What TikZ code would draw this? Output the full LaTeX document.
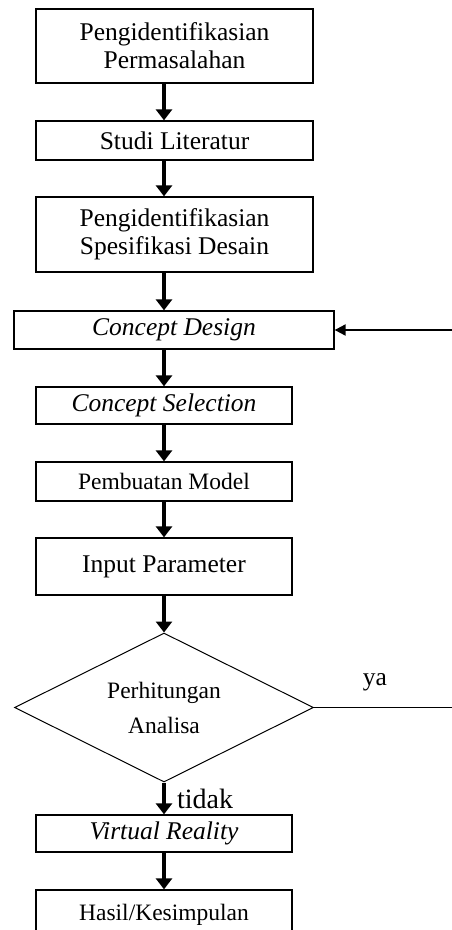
\documentclass[tikz,border=0pt]{standalone}
\usepackage{fontspec}
\setmainfont{Liberation Serif}
\usetikzlibrary{arrows.meta,shapes.geometric}

\tikzset{
  kotak/.style={draw, line width=1.3pt, align=center, inner sep=0pt,
    font=\fontsize{25.5}{28}\selectfont},
  kecil/.style={font=\fontsize{23.5}{26}\selectfont},
  panah/.style={line width=4pt, -{Triangle[width=16pt,length=11pt]}},
}

\begin{document}
\begin{tikzpicture}[x=1pt,y=-1pt]
  \useasboundingbox (0,0) rectangle (451,930);
  % kotak-kotak proses
  \node[kotak, minimum width=277, minimum height=74] (b1) at (174.5,46) {Pengidentifikasian\\Permasalahan};
  \node[kotak, minimum width=277, minimum height=39] (b2) at (174.5,140.5) {Studi Literatur};
  \node[kotak, minimum width=277, minimum height=75] (b3) at (174.5,234.5) {Pengidentifikasian\\Spesifikasi Desain};
  \node[kotak, minimum width=320, minimum height=38] (b4) at (174,330) {\textit{Concept Design}};
  \node[kotak, minimum width=256, minimum height=37] (b5) at (164,405.5) {\textit{Concept Selection}};
  \node[kotak, kecil, minimum width=256, minimum height=39] (b6) at (164,481.5) {Pembuatan Model};
  \node[kotak, minimum width=256, minimum height=57] (b7) at (164,566.5) {Input Parameter};
  \node[kotak, kecil, diamond, aspect=2, line width=1pt, minimum width=299, minimum height=149] (d) at (164,707.5) {Perhitungan\\[9pt]Analisa};
  \node[kotak, minimum width=256, minimum height=37] (b8) at (164,833.5) {\textit{Virtual Reality}};
  \node[kotak, kecil, minimum width=256, minimum height=50] (b9) at (164,915) {Hasil/Kesimpulan};
  % label
  \node[font=\fontsize{25.5}{28}\selectfont] (lya) at (375,682) {ya};
  \node[font=\fontsize{28}{30}\selectfont] (ltidak) at (205,799) {tidak};
  % panah
  \draw[panah] (b1.south -| b7) -- (b2.north -| b7);
  \draw[panah] (b2.south -| b7) -- (b3.north -| b7);
  \draw[panah] (b3.south -| b7) -- (b4.north -| b7);
  \draw[panah] (b4.south -| b7) -- (b5.north);
  \draw[panah] (b5.south) -- (b6.north);
  \draw[panah] (b6.south) -- (b7.north);
  \draw[panah] (b7.south) -- (d.north);
  \draw[panah] (d.south) -- (b8.north);
  \draw[panah] (b8.south) -- (b9.north);
  % umpan balik
  \coordinate (kanan1) at (460,330);
  \draw[line width=2pt, -{Triangle[width=11pt,length=11pt]}] (kanan1) -- (b4.east);
  \draw[line width=1.3pt] (d.east) -- (d.east -| kanan1);
\end{tikzpicture}
\end{document}
